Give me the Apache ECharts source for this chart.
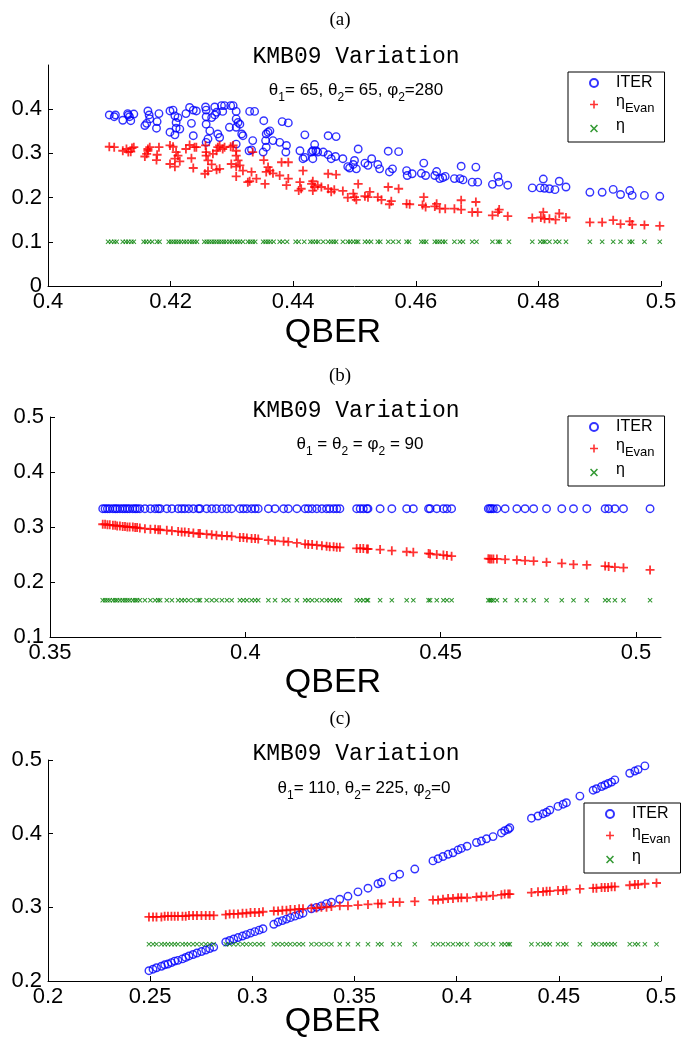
<!DOCTYPE html>
<html><head><meta charset="utf-8">
<script src="https://cdn.jsdelivr.net/npm/echarts@6/dist/echarts.min.js"></script>
<style>html,body{margin:0;padding:0;background:#fff}#c{width:681px;height:1042px}</style>
</head><body><div id="c"></div>
<script>
// ---------- Panel (a): theta1=65, theta2=65, phi2=280 ----------
const iterA = [[0.4100,0.387],[0.4108,0.383],[0.4110,0.387],[0.4122,0.375],[0.4130,0.390],[0.4131,0.387],[0.4133,0.383],[0.4135,0.374],[0.4140,0.389],
[0.4158,0.363],[0.4161,0.368],[0.4163,0.396],[0.4165,0.387],[0.4166,0.378],[0.4177,0.357],[0.4178,0.372],[0.4181,0.390],
[0.4199,0.396],[0.4204,0.398],[0.4207,0.385],[0.4212,0.381],[0.4209,0.370],[0.4209,0.357],[0.4215,0.355],[0.4199,0.348],[0.4207,0.342],
[0.4225,0.390],[0.4231,0.404],[0.4234,0.368],[0.4237,0.340],[0.4237,0.398],[0.4242,0.396],
[0.4257,0.405],[0.4258,0.398],[0.4258,0.383],[0.4258,0.366],[0.4261,0.333],[0.4258,0.325],[0.4264,0.351],[0.4267,0.381],[0.4272,0.387],
[0.4272,0.405],[0.4275,0.393],[0.4277,0.344],[0.4280,0.336],[0.4283,0.408],[0.4285,0.395],[0.4288,0.408],[0.4298,0.408],[0.4302,0.408],
[0.4307,0.395],[0.4307,0.378],[0.4310,0.370],[0.4313,0.366],[0.4307,0.359],[0.4296,0.359],[0.4316,0.344],[0.4318,0.340],[0.4307,0.321],
[0.4329,0.395],[0.4337,0.395],[0.4334,0.329],[0.4332,0.308],[0.4328,0.306],
[0.4352,0.374],[0.4356,0.344],[0.4359,0.348],[0.4362,0.351],[0.4355,0.329],[0.4356,0.314],[0.4351,0.303],[0.4367,0.329],[0.4378,0.325],
[0.4382,0.372],[0.4392,0.369],[0.4389,0.318],[0.4388,0.303],
[0.4411,0.306],[0.4416,0.288],[0.4419,0.291],[0.4419,0.342],[0.4430,0.303],[0.4432,0.288],[0.4435,0.320],[0.4432,0.306],[0.4437,0.306],[0.4440,0.303],
[0.4449,0.303],[0.4457,0.340],[0.4470,0.338],[0.4457,0.297],[0.4462,0.288],[0.4469,0.293],[0.4481,0.288],[0.4489,0.270],[0.4492,0.267],[0.4500,0.284],
[0.4498,0.275],[0.4506,0.310],[0.4503,0.265],[0.4517,0.278],[0.4522,0.273],[0.4528,0.288],[0.4538,0.275],[0.4541,0.265],[0.4555,0.305],[0.4572,0.304],
[0.4557,0.258],[0.4562,0.265],[0.4585,0.261],[0.4586,0.250],[0.4594,0.254],[0.4609,0.255],[0.4613,0.278],[0.4616,0.250],[0.4631,0.250],[0.4634,0.259],
[0.4639,0.243],[0.4644,0.245],[0.4648,0.248],[0.4663,0.243],[0.4672,0.243],[0.4677,0.240],[0.4674,0.271],[0.4692,0.235],[0.4701,0.235],[0.4698,0.269],
[0.4725,0.230],[0.4734,0.248],[0.4736,0.235],[0.4750,0.228],
[0.4790,0.222],[0.4803,0.222],[0.4808,0.242],[0.4810,0.221],[0.4818,0.220],[0.4827,0.218],[0.4834,0.237],[0.4845,0.224],
[0.4884,0.212],[0.4904,0.212],[0.4922,0.2185],[0.4934,0.207],[0.4949,0.216],[0.4953,0.205],[0.4973,0.205],[0.4998,0.203]];

const evanA = [[0.4100,0.315],[0.4108,0.314],[0.4122,0.306],[0.4128,0.310],[0.4131,0.303],[0.4137,0.312],[0.4140,0.314],[0.4135,0.304],
[0.4158,0.293],[0.4161,0.299],[0.4163,0.310],[0.4166,0.314],[0.4163,0.306],[0.4177,0.285],[0.4178,0.297],[0.4181,0.314],
[0.4199,0.318],[0.4204,0.315],[0.4209,0.303],[0.4212,0.295],[0.4207,0.288],[0.4199,0.276],[0.4207,0.270],[0.4215,0.282],
[0.4225,0.310],[0.4231,0.319],[0.4234,0.289],[0.4237,0.267],[0.4239,0.314],[0.4242,0.314],
[0.4257,0.318],[0.4258,0.303],[0.4258,0.295],[0.4261,0.284],[0.4256,0.254],[0.4261,0.260],[0.4267,0.275],[0.4269,0.299],[0.4275,0.306],[0.4275,0.263],
[0.4280,0.265],[0.4277,0.314],[0.4280,0.318],[0.4285,0.310],[0.4288,0.314],[0.4298,0.315],[0.4302,0.318],[0.4299,0.276],
[0.4307,0.306],[0.4307,0.295],[0.4310,0.284],[0.4307,0.270],[0.4307,0.248],[0.4313,0.273],[0.4318,0.261],[0.4326,0.235],[0.4329,0.237],[0.4332,0.258],
[0.4334,0.303],[0.4340,0.243],
[0.4352,0.285],[0.4354,0.231],[0.4356,0.258],[0.4359,0.269],[0.4362,0.261],[0.4367,0.255],[0.4378,0.250],[0.4381,0.280],[0.4392,0.280],[0.4392,0.243],[0.4389,0.228],
[0.4416,0.261],[0.4411,0.235],[0.4413,0.220],[0.4409,0.216],[0.4430,0.231],[0.4432,0.237],[0.4435,0.224],[0.4432,0.216],[0.4440,0.228],[0.4446,0.224],
[0.4457,0.254],[0.4470,0.252],[0.4457,0.220],[0.4462,0.213],[0.4467,0.218],[0.4481,0.215],[0.4489,0.200],[0.4498,0.209],[0.4500,0.201],[0.4503,0.195],
[0.4506,0.231],[0.4517,0.203],[0.4522,0.201],[0.4525,0.213],[0.4538,0.201],[0.4544,0.195],[0.4555,0.224],[0.4572,0.220],[0.4560,0.192],[0.4557,0.185],
[0.4585,0.186],[0.4590,0.185],[0.4613,0.201],[0.4611,0.183],[0.4616,0.179],[0.4631,0.180],[0.4634,0.186],[0.4639,0.175],[0.4648,0.175],[0.4663,0.175],
[0.4674,0.173],[0.4674,0.194],[0.4692,0.167],[0.4701,0.167],[0.4698,0.190],[0.4725,0.160],[0.4734,0.167],[0.4736,0.173],[0.4750,0.158],
[0.4790,0.154],[0.4804,0.155],[0.4808,0.167],[0.4810,0.152],[0.4818,0.152],[0.4828,0.150],[0.4834,0.164],[0.4845,0.155],
[0.4884,0.144],[0.4904,0.144],[0.4922,0.149],[0.4934,0.140],[0.4949,0.146],[0.4953,0.139],[0.4973,0.138],[0.4998,0.136]];

const etaA = [[0.4098,0.1],[0.4103,0.1],[0.4108,0.1],[0.4112,0.1],[0.4122,0.1],[0.4127,0.1],[0.4131,0.1],[0.4136,0.1],[0.4140,0.1],[0.4156,0.1],
[0.4160,0.1],[0.4165,0.1],[0.4170,0.1],[0.4178,0.1],[0.4182,0.1],[0.4197,0.1],[0.4201,0.1],[0.4205,0.1],[0.4209,0.1],[0.4213,0.1],
[0.4217,0.1],[0.4222,0.1],[0.4226,0.1],[0.4231,0.1],[0.4235,0.1],[0.4239,0.1],[0.4243,0.1],[0.4255,0.1],[0.4259,0.1],[0.4263,0.1],
[0.4267,0.1],[0.4271,0.1],[0.4275,0.1],[0.4279,0.1],[0.4283,0.1],[0.4287,0.1],[0.4291,0.1],[0.4296,0.1],[0.4300,0.1],[0.4305,0.1],
[0.4309,0.1],[0.4313,0.1],[0.4318,0.1],[0.4326,0.1],[0.4330,0.1],[0.4334,0.1],[0.4338,0.1],[0.4351,0.1],[0.4355,0.1],[0.4359,0.1],
[0.4363,0.1],[0.4368,0.1],[0.4378,0.1],[0.4383,0.1],[0.4390,0.1],[0.4404,0.1],[0.4409,0.1],[0.4418,0.1],[0.4428,0.1],[0.4432,0.1],
[0.4437,0.1],[0.4441,0.1],[0.4449,0.1],[0.4457,0.1],[0.4462,0.1],[0.4466,0.1],[0.4470,0.1],[0.4481,0.1],[0.4489,0.1],[0.4493,0.1],
[0.4498,0.1],[0.4503,0.1],[0.4506,0.1],[0.4517,0.1],[0.4522,0.1],[0.4527,0.1],[0.4538,0.1],[0.4542,0.1],[0.4555,0.1],[0.4563,0.1],
[0.4572,0.1],[0.4585,0.1],[0.4589,0.1],[0.4609,0.1],[0.4613,0.1],[0.4617,0.1],[0.4631,0.1],[0.4635,0.1],[0.4639,0.1],[0.4644,0.1],
[0.4648,0.1],[0.4663,0.1],[0.4672,0.1],[0.4677,0.1],[0.4692,0.1],[0.4699,0.1],[0.4725,0.1],[0.4734,0.1],[0.4737,0.1],[0.4752,0.1],
[0.4790,0.1],[0.4803,0.1],[0.4808,0.1],[0.4811,0.1],[0.4818,0.1],[0.4828,0.1],[0.4834,0.1],[0.4845,0.1],[0.4884,0.1],[0.4904,0.1],
[0.4922,0.1],[0.4934,0.1],[0.4949,0.1],[0.4953,0.1],[0.4973,0.1],[0.4998,0.1]];

// ---------- Panel (b): theta1 = theta2 = phi2 = 90 ----------
const qberB = [0.3635,0.3641,0.3647,0.3653,0.3661,0.3667,0.3672,0.3679,0.3686,0.3692,0.3698,0.3704,0.3712,0.3718,0.3723,0.3730,
0.3743,0.3757,0.3769,0.3777,0.3782,0.3799,0.3812,0.3828,0.3837,0.3845,0.3855,0.3867,0.3880,0.3884,0.3901,
0.3914,0.3926,0.3940,0.3953,0.3965,0.3986,0.3995,0.4004,0.4016,0.4025,0.4033,0.4059,0.4076,0.4098,0.4110,
0.4132,0.4153,0.4161,0.4171,0.4183,0.4196,0.4208,0.4216,0.4226,0.4234,0.4242,0.4285,0.4294,0.4302,0.4311,
0.4314,0.4345,0.4375,0.4413,0.4430,0.4469,0.4473,0.4490,0.4507,0.4516,0.4528,0.4622,0.4626,0.4630,0.4635,
0.4644,0.4665,0.4695,0.4716,0.4738,0.4771,0.4810,0.4840,0.4874,0.4921,0.4930,0.4946,0.4968,0.5036];
const iterB = [0.3333,0.3333,0.3333,0.3333,0.3333,0.3333,0.3333,0.3333,0.3333,0.3333,0.3333,0.3333,0.3333,0.3333,0.3333,0.3333,
0.3333,0.3333,0.3333,0.3333,0.3333,0.3333,0.3333,0.3333,0.3333,0.3333,0.3333,0.3333,0.3333,0.3333,0.3333,
0.3333,0.3333,0.3333,0.3333,0.3333,0.3333,0.3333,0.3333,0.3333,0.3333,0.3333,0.3333,0.3333,0.3333,0.3333,
0.3333,0.3333,0.3333,0.3333,0.3333,0.3333,0.3333,0.3333,0.3333,0.3333,0.3333,0.3333,0.3333,0.3333,0.3333,
0.3333,0.3333,0.3333,0.3333,0.3333,0.3333,0.3333,0.3333,0.3333,0.3333,0.3333,0.3333,0.3333,0.3333,0.3333,
0.3333,0.3333,0.3333,0.3333,0.3333,0.3333,0.3333,0.3333,0.3333,0.3333,0.3333,0.3333,0.3333,0.3333];
const evanB = [0.305,0.305,0.304,0.304,0.303,0.303,0.302,0.302,0.301,0.301,0.300,0.300,0.300,0.299,0.299,0.298,
0.297,0.296,0.296,0.295,0.295,0.294,0.293,0.292,0.291,0.291,0.290,0.289,0.288,0.288,0.287,
0.286,0.285,0.284,0.284,0.283,0.281,0.281,0.280,0.279,0.279,0.278,0.276,0.275,0.274,0.273,
0.271,0.269,0.268,0.268,0.267,0.266,0.265,0.264,0.264,0.263,0.263,0.261,0.261,0.261,0.260,
0.260,0.259,0.257,0.255,0.254,0.252,0.251,0.250,0.249,0.248,0.247,0.2425,0.242,0.242,0.242,
0.242,0.241,0.240,0.239,0.238,0.236,0.234,0.232,0.231,0.229,0.228,0.227,0.226,0.222];
const etaB = [0.1667,0.1667,0.1667,0.1667,0.1667,0.1667,0.1667,0.1667,0.1667,0.1667,0.1667,0.1667,0.1667,0.1667,0.1667,0.1667,
0.1667,0.1667,0.1667,0.1667,0.1667,0.1667,0.1667,0.1667,0.1667,0.1667,0.1667,0.1667,0.1667,0.1667,0.1667,
0.1667,0.1667,0.1667,0.1667,0.1667,0.1667,0.1667,0.1667,0.1667,0.1667,0.1667,0.1667,0.1667,0.1667,0.1667,
0.1667,0.1667,0.1667,0.1667,0.1667,0.1667,0.1667,0.1667,0.1667,0.1667,0.1667,0.1667,0.1667,0.1667,0.1667,
0.1667,0.1667,0.1667,0.1667,0.1667,0.1667,0.1667,0.1667,0.1667,0.1667,0.1667,0.1667,0.1667,0.1667,0.1667,
0.1667,0.1667,0.1667,0.1667,0.1667,0.1667,0.1667,0.1667,0.1667,0.1667,0.1667,0.1667,0.1667,0.1667];

// ---------- Panel (c): theta1=110, theta2=225, phi2=0 ----------
const qberC = [0.2494,0.2514,0.2531,0.2555,0.2571,0.2587,0.2604,0.2620,0.2636,0.2658,0.2674,0.2690,0.2710,0.2729,0.2751,0.2772,0.2791,0.2811,
0.2870,0.2889,0.2909,0.2930,0.2952,0.2971,0.2991,0.3012,0.3033,0.3052,
0.3105,0.3126,0.3147,0.3167,0.3186,0.3208,0.3229,0.3248,
0.3289,0.3314,0.3338,0.3363,0.3387,
0.3428,0.3468,0.3517,0.3566,0.3615,0.3632,0.3689,
0.3721,0.3795,0.3884,0.3909,0.3933,0.3958,0.3982,0.4007,0.4023,0.4051,0.4097,0.4121,0.4146,0.4178,0.4219,0.4235,0.4252,0.4260,
0.4366,0.4398,0.4423,0.4440,0.4456,0.4496,0.4521,0.4537,0.4603,0.4668,0.4684,0.4709,0.4725,0.4741,0.4758,0.4774,0.4847,0.4872,0.4888,0.4921,0.4978];
const iterC = [0.214,0.216,0.218,0.220,0.222,0.223,0.225,0.227,0.228,0.230,0.232,0.234,0.236,0.238,0.240,0.242,0.244,0.246,
0.253,0.255,0.257,0.259,0.261,0.263,0.265,0.267,0.269,0.271,
0.277,0.280,0.282,0.284,0.286,0.288,0.290,0.292,
0.298,0.300,0.302,0.305,0.307,
0.311,0.315,0.321,0.326,0.332,0.334,0.341,
0.345,0.352,0.363,0.366,0.369,0.372,0.374,0.378,0.380,0.383,0.388,0.390,0.393,0.396,0.401,0.404,0.406,0.408,
0.421,0.424,0.427,0.429,0.432,0.437,0.440,0.442,0.451,0.459,0.461,0.464,0.466,0.468,0.470,0.473,0.482,0.485,0.487,0.492,null];
const evanC = [0.287,0.287,0.287,0.287,0.288,0.288,0.288,0.288,0.288,0.288,0.288,0.289,0.289,0.289,0.289,0.289,0.289,0.289,
0.290,0.291,0.291,0.291,0.292,0.292,0.293,0.293,0.293,0.294,
0.295,0.295,0.296,0.296,0.297,0.297,0.298,0.298,
0.299,0.299,0.300,0.300,0.301,
0.302,0.302,0.303,0.304,0.305,0.305,0.307,
0.307,0.308,0.310,0.310,0.311,0.312,0.312,0.313,0.313,0.313,0.314,0.315,0.315,0.316,0.317,0.318,0.318,0.318,
0.320,0.321,0.321,0.322,0.322,0.323,0.323,0.324,0.325,0.326,0.326,0.327,0.327,0.327,0.328,0.328,0.330,0.331,0.331,0.332,0.333];
const etaC = [0.25,0.25,0.25,0.25,0.25,0.25,0.25,0.25,0.25,0.25,0.25,0.25,0.25,0.25,0.25,0.25,0.25,0.25,
0.25,0.25,0.25,0.25,0.25,0.25,0.25,0.25,0.25,0.25,
0.25,0.25,0.25,0.25,0.25,0.25,0.25,0.25,
0.25,0.25,0.25,0.25,0.25,
0.25,0.25,0.25,0.25,0.25,0.25,0.25,
0.25,0.25,0.25,0.25,0.25,0.25,0.25,0.25,0.25,0.25,0.25,0.25,0.25,0.25,0.25,0.25,0.25,0.25,
0.25,0.25,0.25,0.25,0.25,0.25,0.25,0.25,0.25,0.25,0.25,0.25,0.25,0.25,0.25,0.25,0.25,0.25,0.25,0.25,0.25];

// ---------- axis ticks and ranges ----------
const xTicksA = [0.4,0.42,0.44,0.46,0.48,0.5];
const yTicksA = [0,0.1,0.2,0.3,0.4];
const xTicksB = [0.35,0.4,0.45,0.5];
const yTicksB = [0.1,0.2,0.3,0.4,0.5];
const xTicksC = [0.2,0.25,0.3,0.35,0.4,0.45,0.5];
const yTicksC = [0.2,0.3,0.4,0.5];
const xMaxB = 0.5064;

const names = ['ITER','ηEvan','η'];

// ---------- helpers ----------
function zip(xs, ys){ const out=[]; xs.forEach((x,i)=>{ if(ys[i]!=null) out.push([x,ys[i]]); }); return out; }
const PLUS = 'path://M4,0H6V4H10V6H6V10H4V6H0V4H4Z';
const CROSS = 'path://M0,1.4L1.4,0L5,3.6L8.6,0L10,1.4L6.4,5L10,8.6L8.6,10L5,6.4L1.4,10L0,8.6L3.6,5Z';
const FONT = 'Liberation Sans, Arial, sans-serif';
const fmt = v => String(parseFloat((+v).toFixed(4)));

function axis(idx, ticks, isX){
  const min = ticks[0], max = isX ? ticks[ticks.length-1] : undefined;
  return {
    type:'value', gridIndex:idx, min:min, max:max, interval:+(ticks[1]-ticks[0]).toFixed(4),
    axisLine:{show:true,onZero:false,lineStyle:{color:'#000',width:1}},
    axisTick:{show:true,inside:true,length:5,lineStyle:{color:'#000'},customValues:ticks},
    splitLine:{show:false},
    axisLabel:{fontFamily:FONT,fontSize:22,color:'#000',margin:isX?5:6,formatter:fmt,customValues:ticks,hideOverlap:false,showMaxLabel:true,showMinLabel:true}
  };
}
function series(idx, iter, evan, eta){
  return [
    {name:names[0],type:'scatter',xAxisIndex:idx,yAxisIndex:idx,data:iter,symbol:'circle',symbolSize:7.5,
     itemStyle:{color:'rgba(255,255,255,0)',borderColor:'#0000ff',borderWidth:1.4},silent:true},
    {name:names[1],type:'scatter',xAxisIndex:idx,yAxisIndex:idx,data:evan,symbol:PLUS,symbolSize:9,
     itemStyle:{color:'#ff0000'},silent:true},
    {name:names[2],type:'scatter',xAxisIndex:idx,yAxisIndex:idx,data:eta,symbol:CROSS,symbolSize:5,
     itemStyle:{color:'#008000'},silent:true}
  ];
}
function legend(left, top){
  return {orient:'vertical',left:left,top:top,data:names,selectedMode:false,
    backgroundColor:'#fff',borderColor:'#000',borderWidth:1,padding:[3,10,3,21],
    itemWidth:8,itemHeight:8,itemGap:3,
    formatter:n => n==='ITER' ? '{t|ITER}' : (n==='η' ? '{g|η}' : '{g|η}{s|Evan}'),
    textStyle:{fontFamily:FONT,fontSize:16,color:'#000',padding:[0,0,0,13],
      rich:{t:{fontFamily:FONT,fontSize:16,lineHeight:22,color:'#000'},
            g:{fontFamily:FONT,fontSize:16,lineHeight:22,color:'#000',padding:[0,0,5,0]},
            s:{fontFamily:FONT,fontSize:13,lineHeight:22,color:'#000',padding:[7,0,0,0]}}}
  };
}
function txt(x,y,text,font,rich){
  return {type:'text',x:x,y:y,silent:true,style:{text:text,font:font,fill:'#000',align:'center',verticalAlign:'middle',rich:rich}};
}
const SUB = {n:{fontFamily:FONT,fontSize:17,lineHeight:20,fill:'#000'},
             s:{fontFamily:FONT,fontSize:12,lineHeight:28,verticalAlign:'bottom',fill:'#000'}};
const SERIF = '19px "Liberation Serif", serif';
const MONO = '23px "Liberation Mono", monospace';
const QB = '34px "Liberation Sans", Arial, sans-serif';

const chart = echarts.init(document.getElementById('c'));
chart.setOption({
  animation:false,
  backgroundColor:'#fff',
  grid:[
    {left:48,top:65,width:613,height:221},
    {left:50,top:417,width:611,height:220},
    {left:48,top:760,width:613,height:221}
  ],
  xAxis:[axis(0,xTicksA,true),Object.assign(axis(1,xTicksB,true),{max:xMaxB}),axis(2,xTicksC,true)],
  yAxis:[Object.assign(axis(0,yTicksA,false),{max:0.5}),Object.assign(axis(1,yTicksB,false),{max:0.5}),Object.assign(axis(2,yTicksC,false),{max:0.5})],
  legend:[legend(568,72),legend(568,416),legend(584,803)],
  series:[].concat(
    series(0,iterA,evanA,etaA),
    series(1,zip(qberB,iterB),zip(qberB,evanB),zip(qberB,etaB)),
    series(2,zip(qberC,iterC),zip(qberC,evanC),zip(qberC,etaC))
  ),
  graphic:[
    txt(340,20,'(a)',SERIF),
    txt(356,57,'KMB09 Variation',MONO),
    txt(356,90,'{n|θ}{s|1}{n|= 65, θ}{s|2}{n|= 65, φ}{s|2}{n|=280}','17px '+FONT,SUB),
    txt(333,333,'QBER',QB),
    txt(340,376,'(b)',SERIF),
    txt(356,411,'KMB09 Variation',MONO),
    txt(360,444,'{n|θ}{s|1}{n| = θ}{s|2}{n| = φ}{s|2}{n| = 90}','17px '+FONT,SUB),
    txt(333,683,'QBER',QB),
    txt(340,719,'(c)',SERIF),
    txt(356,754,'KMB09 Variation',MONO),
    txt(364,788,'{n|θ}{s|1}{n|= 110, θ}{s|2}{n|= 225, φ}{s|2}{n|=0}','17px '+FONT,SUB),
    txt(333,1022,'QBER',QB)
  ]
});
</script>
</body></html>
